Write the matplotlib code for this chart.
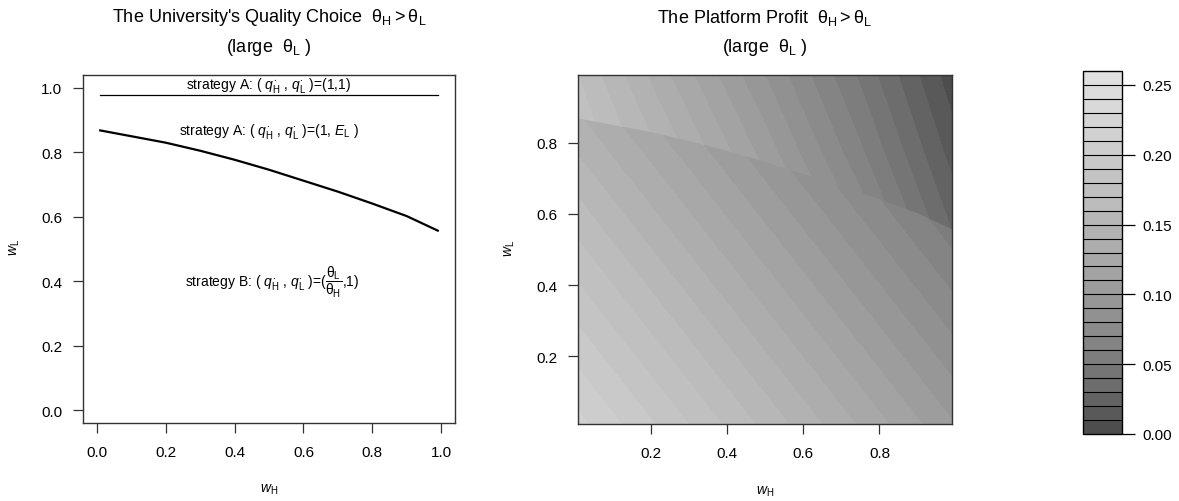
import numpy as np
import matplotlib
matplotlib.use('Agg')
import matplotlib.pyplot as plt
from matplotlib.colors import ListedColormap, BoundaryNorm
from matplotlib.cm import ScalarMappable
from matplotlib.patches import Polygon

plt.rcParams['font.family'] = 'Liberation Sans'
plt.rcParams['mathtext.fontset'] = 'custom'
plt.rcParams['mathtext.rm'] = 'Liberation Sans'
plt.rcParams['mathtext.it'] = 'Liberation Sans:italic'
plt.rcParams['mathtext.bf'] = 'Liberation Sans:bold'

# boundary between strategy A (above) and strategy B (below)
w_h_curve = [0.01, 0.1, 0.2, 0.3, 0.4, 0.5, 0.6, 0.7, 0.8, 0.9, 0.99]
w_l_curve = [0.868, 0.850, 0.830, 0.805, 0.777, 0.746, 0.712, 0.678, 0.641, 0.602, 0.557]
w_l_top = 0.977

w_h_b = [0.01, 0.5, 0.99]
w_l_b = [0.01, 0.5, 0.99]
profit_b = [[0.213, 0.157, 0.101],
            [0.172, 0.116, 0.060],
            [0.131, 0.075, 0.019]]

# strategy A region
w_h_a = [0.01, 0.25, 0.5, 0.75, 0.99]
w_l_a = [0.55, 0.77, 0.99]
profit_a = [[0.190, 0.160, 0.122, 0.080, 0.030],
            [0.180, 0.146, 0.106, 0.062, 0.016],
            [0.170, 0.130, 0.090, 0.048, 0.004]]

levels = np.linspace(0, 0.26, 27)
cbar_ticks = [0.0, 0.05, 0.10, 0.15, 0.20, 0.25]

# R-style gray palette, gamma 2.2
n_col = len(levels) - 1
gv = np.linspace(0.3 ** 2.2, 0.88 ** 2.2, n_col) ** (1 / 2.2)
gray_cols = [(v, v, v) for v in gv]

TH = r'\mathrm{\theta}'
W, H = 1179, 502
fig = plt.figure(figsize=(W / 100, H / 100), dpi=100)

ax1 = fig.add_axes([83 / W, 78 / H, 372 / W, 348 / H])
ax2 = fig.add_axes([578 / W, 77 / H, 374 / W, 349 / H])
cax = fig.add_axes([1083 / W, 67 / H, 39 / W, 363 / H])


def style_axes(ax):
    for s in ax.spines.values():
        s.set_color('#333333')
        s.set_linewidth(1.0)
    ax.tick_params(direction='out', length=7, width=0.9, color='#333333', labelsize=11)
    ax.tick_params(axis='x', pad=9)
    ax.tick_params(axis='y', pad=8)


def two_line_title(ax, line1):
    ax.text(0.5, 1.167, line1, transform=ax.transAxes, ha='center', va='center', fontsize=13)
    ax.text(0.5, 1.083, r'(large  $%s_{\mathrm{L}}$ )' % TH, transform=ax.transAxes,
            ha='center', va='center', fontsize=13)


def axis_labels(ax, pw):
    ax.text(0.5, -0.19, r'$w_{\mathrm{H}}$', transform=ax.transAxes, ha='center', va='center', fontsize=10)
    ax.text(-68 / pw, 0.506, r'$w_{\mathrm{L}}$', transform=ax.transAxes, ha='center', va='center',
            fontsize=10, rotation=90)


# left panel: university's quality choice
ax1.plot(w_h_curve, w_l_curve, color='black', lw=1.6)
ax1.plot([w_h_curve[0], w_h_curve[-1]], [w_l_top, w_l_top], color='black', lw=0.9)
ax1.set_xlim(-0.04, 1.04)
ax1.set_ylim(-0.04, 1.04)
ax1.set_xticks([0.0, 0.2, 0.4, 0.6, 0.8, 1.0])
ax1.set_yticks([0.0, 0.2, 0.4, 0.6, 0.8, 1.0])
ax1.set_xticklabels(['0.0', '0.2', '0.4', '0.6', '0.8', '1.0'])
ax1.set_yticklabels(['0.0', '0.2', '0.4', '0.6', '0.8', '1.0'])
style_axes(ax1)

qq = r'( $q_{\mathrm{H}}^{\bullet}$ , $q_{\mathrm{L}}^{\bullet}$ )'
ax1.text(0.50, 1.012, 'strategy A: ' + qq + '=(1,1)', ha='center', va='center', fontsize=10)
ax1.text(0.50, 0.867, 'strategy A: ' + qq + r'=(1, $E_{\mathrm{L}}$ )', ha='center', va='center', fontsize=10)
ax1.text(0.51, 0.40, 'strategy B: ' + qq
         + r'=($\dfrac{%s_{\mathrm{L}}}{%s_{\mathrm{H}}}$,1)' % (TH, TH),
         ha='center', va='center', fontsize=10)

two_line_title(ax1, r"The University's Quality Choice  $%s_{\mathrm{H}} > %s_{\mathrm{L}}$" % (TH, TH))
axis_labels(ax1, 372)

# right panel: platform profit, B drawn everywhere, A laid over above the curve
cs_b = ax2.contourf(w_h_b, w_l_b, profit_b, levels=levels, colors=gray_cols)
cs_a = ax2.contourf(w_h_a, w_l_a, profit_a, levels=levels, colors=gray_cols)
curve_pts = list(zip(w_h_curve, w_l_curve))
poly_a = Polygon(curve_pts + [(1.0, w_l_curve[-1]), (1.0, 1.0), (0.0, 1.0), (0.0, w_l_curve[0])],
                 closed=True, transform=ax2.transData)
cs_a.set_clip_path(poly_a)
ax2.set_xlim(0.01, 0.99)
ax2.set_ylim(0.01, 0.99)
ax2.set_xticks([0.2, 0.4, 0.6, 0.8])
ax2.set_yticks([0.2, 0.4, 0.6, 0.8])
style_axes(ax2)
two_line_title(ax2, r"The Platform Profit  $%s_{\mathrm{H}} > %s_{\mathrm{L}}$" % (TH, TH))
axis_labels(ax2, 374)

# colour key
sm = ScalarMappable(norm=BoundaryNorm(levels, n_col), cmap=ListedColormap(gray_cols))
cb = fig.colorbar(sm, cax=cax, drawedges=True, ticks=cbar_ticks)
cb.ax.minorticks_off()
cb.dividers.set_color('black')
cb.dividers.set_linewidth(0.8)
cb.outline.set_edgecolor('black')
cb.outline.set_linewidth(1.0)
cb.ax.set_yticklabels(['%.2f' % t for t in cbar_ticks])
cax.tick_params(direction='out', length=9, width=0.9, labelsize=11, pad=6)

fig.savefig('out.png', dpi=100)
